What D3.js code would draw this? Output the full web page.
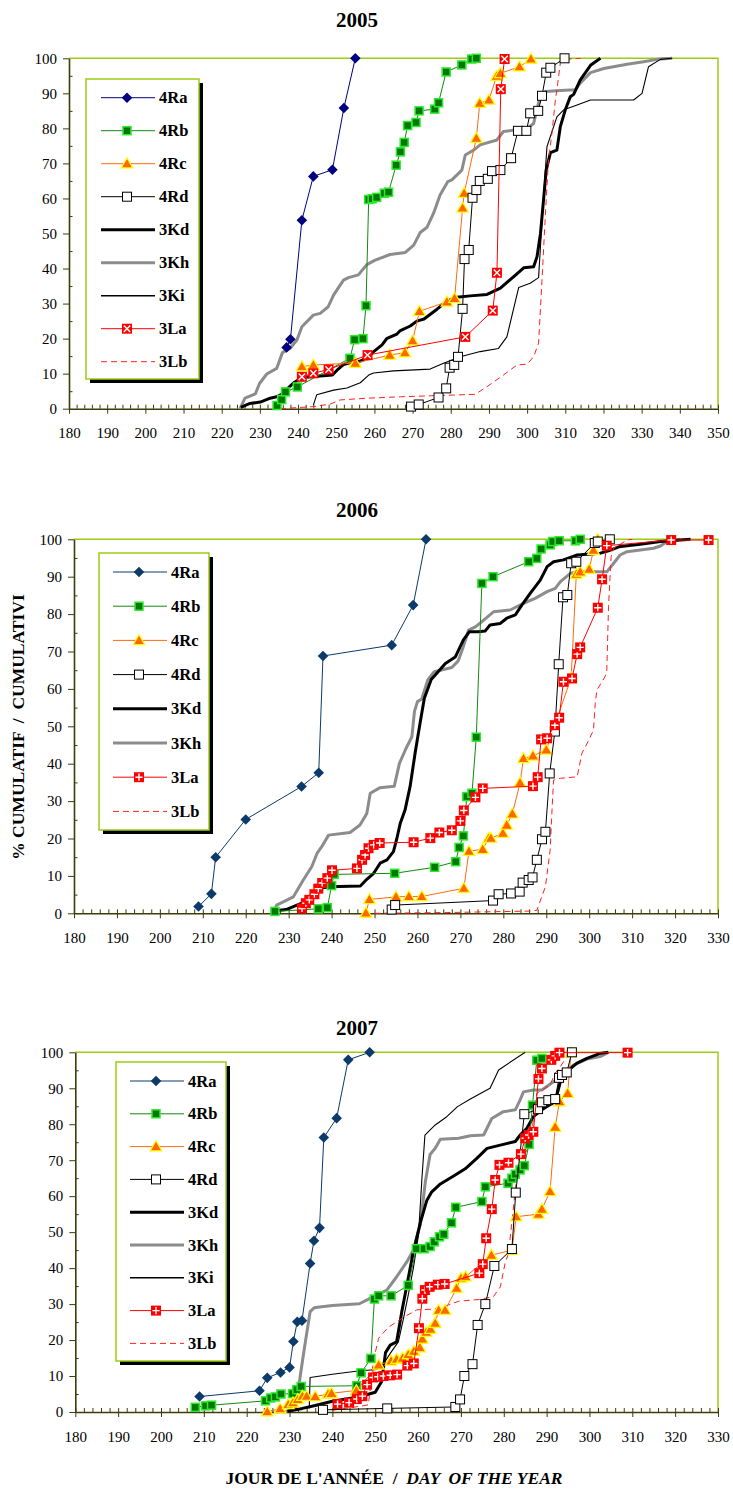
<!DOCTYPE html>
<html lang="fr">
<head>
<meta charset="utf-8">
<title>Cumulatif</title>
<script src="https://d3js.org/d3.v7.min.js"></script>
<style>
  body { margin: 0; background: #ffffff; }
  text { font-family: "Liberation Serif", "Times New Roman", Times, "DejaVu Serif", serif; fill: #000000; }
  .tick text { font-size: 15px; }
  .tick line, .domain { stroke: #3d3d0a; }
</style>
</head>
<body>
<div id="chart"></div>
<script>
// ---- data: [day of year, cumulative %] ----
// 2005
var ra05 = [[237,17.5],[238,19.8],[241,53.8],[244,66.3],[249,68.2],[252,85.8],[255,100]];
var rb05 = [[234.5,0.9],[235.7,2.6],[236.7,4.8],[239.8,6.2],[253.6,14.4],[254.8,19.7],[257,20],[257.8,29.4],[258.5,59.7],[259.4,59.9],[260.6,60.3],[262.6,61.5],[263.7,61.8],[265.7,69.5],[266.8,73.3],[267.8,76],[268.7,80.8],[270.9,81.7],[271.7,85],[275.8,85.5],[276.8,87.3],[278.8,96.1],[282.9,98.1],[285.5,99.8],[286.7,100]];
var rc05 = [[241,12],[244,12.5],[255,13],[264,15.3],[268,16],[270,19.4],[271.8,27.8],[279,30.5],[281,31.5],[283.1,57.3],[283.5,61.5],[286.7,77.2],[287.6,87.2],[290,88.1],[292,94.9],[293,95.7],[298,97.6],[301,99.8]];
var rd05 = [[269.6,0.6],[271.6,1.2],[276.8,3.2],[278.8,5.8],[279.7,11.7],[280.9,12.5],[281.9,14.8],[283.1,28.5],[283.6,42.7],[284.7,45.3],[285.7,60.2],[286.7,62.4],[287.6,65],[289.7,65.6],[290.8,67.8],[293,68.1],[295.8,71.5],[297.6,79.3],[299.8,79.3],[300.8,84.3],[302.9,85],[303.9,89.3],[305,95.9],[306.1,97.3],[309.8,100]];
var kd05 = [[225,0.4],[227.4,1.5],[230.1,1.9],[232.7,3],[234.4,3.4],[236.2,4.4],[237.5,6],[239,7.5],[241,8.9],[249,9.6],[250.2,11],[251.9,12.6],[254.5,13.4],[256.3,13.6],[258.5,14.8],[259.8,16.3],[262,18.2],[263.3,20.1],[265.9,21.3],[266.8,22.3],[269.4,23.6],[271.1,25],[273,25.6],[276.4,28.4],[279,30.7],[281.6,31.8],[285.1,32.2],[289.5,32.6],[293,34.4],[296.5,37.7],[299.1,40.2],[301.7,40.5],[302.6,43.4],[303.5,50],[304.3,59.6],[305,68.1],[306.1,73.1],[307.8,73.8],[308.7,80.5],[310,85.3],[311.3,89],[312.2,89.7],[313.9,93.8],[316.6,98],[319.2,100]];
var kh05 = [[224.8,0],[226.1,3],[228.8,4.2],[229.9,7.2],[231.8,9.9],[234.4,11.5],[235.9,16],[237.9,17.2],[239.7,19.6],[241,23.4],[244,26.7],[245.8,27.2],[247.9,29.1],[249.3,32.4],[250.2,33.9],[251.9,36.7],[253.2,37.4],[255.8,38.2],[258,41.1],[260.2,42.4],[264.1,44],[268.1,44.6],[270.3,46.7],[272,50.3],[273.8,51.8],[275.5,55.8],[277.2,61],[279.2,64.8],[280.3,65.3],[282.9,68.1],[283.8,72.4],[286,73.8],[287.7,75.3],[292.1,76.7],[293.8,79.1],[296.5,79.5],[300,80],[301.7,81.4],[303.5,89.5],[304.8,90.5],[308.7,90.8],[312.6,91],[313.9,92.9],[316.6,95.9],[320.1,97.1],[326.2,98.3],[330.5,99],[334,99.7],[338,100]];
var ki05 = [[244,1],[244.9,4],[249.3,5.3],[252.8,5.9],[256.3,7.4],[258.5,9.6],[259.8,10.2],[265,10.8],[274.6,11.3],[278.1,13],[282.5,14.8],[287.7,16.3],[292.5,17.2],[294.7,20.5],[297.8,34.6],[300.8,35.8],[303,37.4],[304.3,60.5],[305.2,74.8],[307.8,83.3],[309.6,85.3],[313.1,86.7],[316.6,88.1],[327.9,88.1],[330.1,90],[331.8,97.6],[334.9,99.7],[338,100]];
var la05 = [[241,9.1],[244,10.1],[248,11.2],[258.2,15.3],[283.8,20.5],[291,28],[292.1,38.8],[293.1,91.2],[294.1,99.8]];
var lb05 = [[235.3,0],[244,0.6],[248.4,1.3],[251,2.5],[258,3],[266.8,3.4],[280.7,3.9],[286.4,4.1],[289.5,6.3],[293.8,9.6],[297.4,12.5],[300,12.7],[301.7,14.8],[303,18.7],[303.9,36.7],[304.8,55.8],[305.6,71],[306.5,78.6],[307.4,88.1],[307.8,91],[308.7,98.6],[309.6,99.7],[314,100]];

// 2006
var ra06 = [[209,1.8],[212,5.2],[213,15],[220,25.1],[233,33.9],[237,37.6],[238,68.8],[254,71.7],[259,82.4],[262,100]];
var rb06 = [[226.8,0.5],[236.9,1.2],[239,1.5],[240,7.4],[240.6,10.4],[254.7,10.7],[264,12.3],[268.9,13.8],[269.7,17.6],[270.7,20.7],[271.5,31.2],[272.7,32.1],[273.7,47.1],[275,88.2],[277.6,90],[285.9,94],[287.8,94.9],[288.8,97.4],[290.9,98.5],[291.5,99.4],[293,99.6],[296.8,99.6],[297.9,100]];
var rc06 = [[248,0.1],[248.8,3.7],[255,4.4],[258,4.5],[261,4.5],[270.8,6.7],[272,16.6],[275.2,17.1],[276.6,20.1],[277.1,20.1],[279.9,21.4],[280.8,23.6],[282.1,26.6],[283.9,34.9],[284.7,41.4],[286.9,42.1],[290,43.7],[295.8,63],[297,90.7],[297.9,91.3],[300,92],[301,97.1],[302,100]];
var rd06 = [[254,1],[254.8,2.2],[277.6,3.4],[278.9,5.1],[281.8,5.3],[283.8,5.8],[284.5,8.2],[285.9,8.9],[286.8,9.6],[287.8,14.3],[289,19.8],[289.8,21.8],[290.8,37.4],[292,48.6],[292.9,66.6],[293.9,84.5],[294.9,85.1],[295.8,93.6],[297,94],[301.3,99],[302,99.4],[304.8,100]];
var kd06 = [[226.8,0.7],[229.4,1],[231.5,2],[233.1,2.7],[237.3,6.7],[239.3,7.1],[246.7,7.3],[248.2,9.1],[249.8,10.7],[251.3,13.4],[252.9,14.3],[254.4,16.5],[255.2,20],[256,24.1],[257.1,27.6],[258.3,34],[259.5,43.2],[260.6,50.8],[261.6,57.5],[263.2,62.5],[264.5,64.2],[266.5,66.8],[268.8,68.5],[270.7,73.1],[272.1,75.3],[274.2,75.3],[275.8,75.5],[276.9,77.1],[279.3,77.5],[280.8,78.9],[282.8,79.8],[284.3,82.4],[286.3,85.6],[288.6,89.1],[290.2,92.7],[291.7,94],[294,94.5],[297.2,95.8],[302.6,96.3],[304.5,96.9],[306.9,98],[311.9,98.7],[316.6,99.4],[323.6,100]];
var kh06 = [[226.5,0.5],[227.2,2.2],[231.1,4.4],[233.4,8.9],[235.4,12.5],[236.6,16],[237.7,17.8],[239.3,20.9],[244.3,21.6],[246.6,23.6],[248.2,26.7],[249,32.1],[251.3,33.6],[254.6,34],[255.8,40.1],[257.3,44],[258.7,47.2],[259.3,54],[260,56.6],[261,57.3],[262.4,62.4],[263.9,64.6],[268,65.7],[269.5,67.5],[270.6,71],[271.9,75.7],[273.5,76.6],[275,78],[277.7,80.6],[281.6,81.1],[284.7,82.9],[287.4,84.2],[290.2,86],[292.1,86.9],[293.3,88.7],[295.6,90.9],[297.9,91.3],[304.1,91.3],[305.7,93.6],[307.2,95.8],[308.8,96.7],[315,97.6],[316.6,98.2],[318.1,99.4],[321.2,100]];
var la06 = [[233.1,1.3],[234,2.7],[234.8,3.6],[236,5.1],[236.9,6.6],[237.8,8.1],[239,9.4],[240.1,11.5],[245.9,12],[247.1,14.3],[247.8,15.6],[248.6,17.4],[249.8,18.3],[251.2,18.8],[259.1,19],[263,20.1],[265.1,21.6],[268,22.2],[270,24.7],[270.8,27.5],[273.5,31],[275.2,33.4],[286.9,34],[288,36.4],[288.8,46.5],[290.2,46.8],[292,50.3],[293,52.3],[294,61.9],[296,62.8],[297.2,69.3],[297.9,71.1],[302,81.7],[303,89.3],[304.1,98.3],[319.1,99.8],[327.8,99.8]];
var lb06 = [[250,0],[266.9,0.2],[286.3,0.6],[287.8,0.8],[289.8,7.1],[290.9,16.9],[291.3,26.7],[291.7,35.6],[293.3,36.1],[297.2,36.5],[298.3,42.8],[299.9,46.3],[301,49],[301.4,56.1],[301.8,59.7],[303.7,63.3],[304.1,65],[304.5,82],[305.1,95.3],[305.7,97.6],[308.8,99.8],[310,100]];

// 2007
var ra07 = [[209,4.3],[223,5.9],[224.8,9.5],[227.9,11],[230,12.4],[230.9,19.6],[231.8,25.1],[232.9,25.4],[234.8,41.3],[235.7,47.6],[237,51.2],[238,76.3],[241,81.7],[243.7,97.9],[248.7,100]];
var rb07 = [[208,1.3],[210.4,1.7],[211.8,1.9],[224.4,3.1],[225.6,3.9],[226.7,4.2],[228,5],[230.7,5.1],[231.7,6.2],[232.7,7.1],[245.7,7.3],[246.7,10.9],[249,14.9],[249.8,31.4],[250.8,32.3],[253.7,32.3],[257.7,35.2],[259.6,45.4],[261.4,45.4],[262.8,46],[263.8,47.3],[265,48.7],[266,49.4],[267.8,52.6],[268.8,56.9],[274.9,58.5],[275.7,62.6],[281,63.6],[281.9,65],[282.7,66.1],[283.8,67.3],[284.8,68.5],[285.9,74.4],[286.7,85.3],[287.7,97.8],[288.9,98.3]];
var rc07 = [[224.8,0.1],[227.8,0.9],[229.7,2.1],[230.8,2.6],[231.9,3.5],[233,4.4],[234,4.4],[236,4.3],[239,5],[239.8,5.2],[245.6,6],[250.8,13.1],[253.7,14.2],[255,14.7],[256.4,15],[257.7,16],[259,16.9],[260.4,17.9],[261,20.3],[261.9,22.2],[262.9,23],[264,24.7],[264.8,28.3],[266.3,28.3],[269,34.4],[270,37.2],[271.1,37.6],[277.1,43.6],[281.9,45],[282.9,54.3],[288.1,55],[288.9,56.4],[290.8,61.3],[292,79.2],[293,86.3],[294.9,88.6],[295.7,99.9]];
var rd07 = [[237.8,0.6],[252.8,1],[268.7,1.4],[269.8,3.5],[270.8,10],[272.7,13.3],[273.9,24.2],[275.7,30],[277.8,40.6],[281.9,45.3],[282.8,61],[284.8,82.8],[288,84.2],[288.9,86.1],[290.4,86.7],[292,87],[292.9,92.9],[293.6,93.7],[294.7,94.4],[295.9,100]];
var kd07 = [[229.5,0.2],[233,1],[236,1.8],[240,3],[245,4],[248,4.8],[250,5.5],[251.5,8.5],[252.4,16.5],[253.5,18.6],[255,19.5],[256.2,27.9],[257.4,35.3],[258.9,44.6],[260.5,52.5],[262,58.7],[263.2,61.2],[265.2,63.4],[268.3,65.6],[271,67.6],[273.7,70.5],[276.1,73.3],[279.2,74.2],[282.7,75.2],[283.8,77],[285.4,78.9],[286.9,82.1],[288.9,84],[291.2,85.8],[292.4,88.1],[293.2,91.8],[294.7,94.6],[297.1,97],[299.4,98.3],[302.5,99.7],[304.4,100]];
var kh07 = [[229,0],[231.5,1.5],[232.5,10],[233.5,18],[234.8,27.9],[235.8,29],[237,29.2],[240,29.6],[246.3,30.1],[248.8,31.6],[252.7,33.9],[255,37.6],[257.4,41.8],[258.9,45],[260.5,52],[261.7,64],[262.8,71.6],[264,73.3],[265.2,75.8],[269.5,76.1],[272.2,76.8],[275.3,77],[277.2,81.6],[279.9,83.5],[282.7,84],[283.8,86.7],[284.6,89],[286.9,89.5],[288.9,89.5],[291.6,91.8],[293.9,94.2],[296.3,96.5],[299.4,98.1],[302.5,98.8],[304.4,100]];
var ki07 = [[234.6,1],[234.8,9.6],[240,10.5],[246,11.4],[250.4,11.8],[252,13.5],[253.5,16.3],[255.4,19.5],[256.6,26],[257.7,32.5],[258.9,40],[260.1,49.2],[260.9,65],[261.6,77],[264,79.8],[266.7,82.1],[269.2,84.9],[272.2,87],[276.8,90],[278.8,95.1],[285,100]];
var la07 = [[241.2,2.2],[243.9,2.6],[245.7,3.6],[247,4.4],[248.1,7.6],[249.5,9.6],[250.6,9.8],[251.9,10],[253.5,10.2],[255.1,10.4],[257.5,12.9],[259,13.5],[260.2,23.3],[261,31.5],[261.6,33.9],[262.7,34.8],[264.6,35.4],[266.2,35.6],[274.3,38.6],[275.1,41.1],[275.9,48.3],[277.2,56.4],[278,64.5],[279,68.7],[281.1,69.3],[284,71.7],[285,76.1],[285.8,77],[286.9,77.9],[288.1,92.6],[288.9,95.5],[291.1,97.9],[292,99],[293,99.9],[308.9,99.9]];
var lb07 = [[240,0.5],[246,1.5],[248.4,2],[249.6,14.5],[250.8,20.5],[253,23.5],[256.6,26.3],[259.7,28.4],[263.6,28.6],[266,29.3],[269.5,30.8],[274.5,31.3],[277.6,32.1],[279.2,34.8],[280.3,41.3],[281.1,44.1],[282.7,61.7],[283.5,71],[285,71.9],[286.2,74.7],[286.9,81.2],[287.7,88.6],[288.9,89.5],[290.8,90.9],[292,94.2],[293.2,96],[294.7,98.8],[295.5,100]];

var years = ["2005", "2006", "2007"];
var yTicks = [0, 10, 20, 30, 40, 50, 60, 70, 80, 90, 100];

// ---- layout ----
var W = 733, H = 1490;

var panels = [
  {year: years[0], xMax: 350, left: 69, right: 718, top: 58.3, bottom: 408.7, titleY: 26.7,
   lg: {x: 86, y: 79, w: 113, h: 300, first: 97.7, step: 33, lx: 101, mx: 127, tx: 159},
   raColor: "#000080", laMark: "x",
   data: {"4Ra": ra05, "4Rb": rb05, "4Rc": rc05, "4Rd": rd05, "3Kd": kd05, "3Kh": kh05, "3Ki": ki05, "3La": la05, "3Lb": lb05}},
  {year: years[1], xMax: 330, left: 74, right: 718, top: 539.3, bottom: 913.3, titleY: 516.7,
   lg: {x: 99, y: 553, w: 110, h: 277, first: 572, step: 34.2, lx: 113, mx: 139, tx: 171},
   raColor: "#0b3a6b", laMark: "+",
   data: {"4Ra": ra06, "4Rb": rb06, "4Rc": rc06, "4Rd": rd06, "3Kd": kd06, "3Kh": kh06, "3La": la06, "3Lb": lb06}},
  {year: years[2], xMax: 330, left: 75.3, right: 718, top: 1052.3, bottom: 1412, titleY: 1035,
   lg: {x: 116, y: 1062, w: 110, h: 299, first: 1081, step: 32.8, lx: 130, mx: 156, tx: 188},
   raColor: "#0b3a6b", laMark: "+",
   data: {"4Ra": ra07, "4Rb": rb07, "4Rc": rc07, "4Rd": rd07, "3Kd": kd07, "3Kh": kh07, "3Ki": ki07, "3La": la07, "3Lb": lb07}}
];

var legendOrder = ["4Ra", "4Rb", "4Rc", "4Rd", "3Kd", "3Kh", "3Ki", "3La", "3Lb"];
var drawOrder = ["3Kh", "3Kd", "3Ki", "3Lb", "4Ra", "4Rb", "4Rc", "4Rd", "3La"];

var lineStyle = {
  "4Ra": {stroke: null, w: 1},
  "4Rb": {stroke: "#108a10", w: 1},
  "4Rc": {stroke: "#ff6a10", w: 1},
  "4Rd": {stroke: "#000000", w: 1},
  "3Kd": {stroke: "#000000", w: 3},
  "3Kh": {stroke: "#8c8c8c", w: 3},
  "3Ki": {stroke: "#000000", w: 1.1},
  "3La": {stroke: "#ff0000", w: 1},
  "3Lb": {stroke: "#ff2020", w: 1, dash: "6,4"}
};

var svg = d3.select("#chart").append("svg")
  .attr("width", W).attr("height", H)
  .style("background", "#ffffff");

function marker(g, key, p) {
  if (key === "4Ra") {
    g.append("path").attr("d", "M0,-5.3L5.3,0L0,5.3L-5.3,0Z").attr("fill", p.raColor);
  } else if (key === "4Rb") {
    g.append("rect").attr("x", -4).attr("y", -4).attr("width", 8).attr("height", 8)
      .attr("fill", "#007800").attr("stroke", "#2ee82e").attr("stroke-width", 1.5);
  } else if (key === "4Rc") {
    g.append("path").attr("d", "M0,-5.8L5.8,4.2L-5.8,4.2Z")
      .attr("fill", "#ff6600").attr("stroke", "#ffff00").attr("stroke-width", 1.2);
  } else if (key === "4Rd") {
    g.append("rect").attr("x", -4.5).attr("y", -4.5).attr("width", 9).attr("height", 9)
      .attr("fill", "#ffffff").attr("stroke", "#000000").attr("stroke-width", 1);
  } else if (key === "3La") {
    g.append("rect").attr("x", -5).attr("y", -5).attr("width", 10).attr("height", 10)
      .attr("fill", "#ff0000");
    var cross = p.laMark === "x" ? "M-3.2,-3.2L3.2,3.2M3.2,-3.2L-3.2,3.2" : "M-3.6,0H3.6M0,-3.6V3.6";
    g.append("path").attr("d", cross).attr("stroke", "#ffffff").attr("stroke-width", 1.4).attr("fill", "none");
  }
}

var hasMarker = {"4Ra": 1, "4Rb": 1, "4Rc": 1, "4Rd": 1, "3La": 1};

// d3 axes put a sans-serif font on their group; drop it so the serif rule applies
function plainFont(a) { a.attr("font-family", null).attr("font-size", null); }

panels.forEach(function(p) {
  var x = d3.scaleLinear().domain([180, p.xMax]).range([p.left, p.right]);
  var y = d3.scaleLinear().domain([0, 100]).range([p.bottom, p.top]);
  var g = svg.append("g");

  // title
  g.append("text").attr("x", 357).attr("y", p.titleY)
    .attr("text-anchor", "middle").style("font-size", "21px").style("font-weight", "bold")
    .text(p.year);

  // plot frame (top and right)
  g.append("path")
    .attr("d", "M" + p.left + "," + p.top + "H" + p.right + "V" + p.bottom)
    .attr("fill", "none").attr("stroke", "#9ccc14").attr("stroke-width", 1.5);

  // x axis: minor ticks every 2 days pointing up, major every 10 pointing down
  var xMinor = d3.range(180, p.xMax + 1, 2);
  var xMajor = d3.range(180, p.xMax + 1, 10);
  g.append("g").attr("transform", "translate(0," + p.bottom + ")")
    .call(d3.axisBottom(x).tickValues(xMinor).tickSize(-4).tickSizeOuter(0).tickFormat(""))
    .call(function(a) { a.select(".domain").remove(); });
  g.append("g").attr("transform", "translate(0," + p.bottom + ")")
    .call(d3.axisBottom(x).tickValues(xMajor).tickSize(5).tickSizeOuter(0).tickPadding(14))
    .call(plainFont)
    .call(function(a) { a.select(".domain").attr("stroke-width", 1.6); });

  // y axis: major every 10 outside, minor at 5s inside
  g.append("g").attr("transform", "translate(" + p.left + ",0)")
    .call(d3.axisLeft(y).tickValues(d3.range(5, 100, 10)).tickSize(-3.5).tickSizeOuter(0).tickFormat(""))
    .call(function(a) { a.select(".domain").remove(); });
  g.append("g").attr("transform", "translate(" + p.left + ",0)")
    .call(d3.axisLeft(y).tickValues(yTicks).tickSize(6).tickSizeOuter(0).tickPadding(6))
    .call(plainFont)
    .call(function(a) { a.select(".domain").attr("stroke-width", 1.6); });

  var line = d3.line().x(function(d) { return x(d[0]); }).y(function(d) { return y(d[1]); });

  drawOrder.forEach(function(key) {
    var vals = p.data[key];
    if (!vals) return;
    var st = lineStyle[key];
    g.append("path").datum(vals)
      .attr("d", line)
      .attr("fill", "none")
      .attr("stroke", st.stroke || p.raColor)
      .attr("stroke-width", st.w)
      .attr("stroke-linejoin", "round")
      .attr("stroke-dasharray", st.dash || null);
    if (hasMarker[key]) {
      vals.forEach(function(d) {
        var m = g.append("g").attr("transform", "translate(" + x(d[0]) + "," + y(d[1]) + ")");
        marker(m, key, p);
      });
    }
  });

  // legend
  var lg = p.lg;
  g.append("rect").attr("x", lg.x + 4).attr("y", lg.y + 4).attr("width", lg.w).attr("height", lg.h)
    .attr("fill", "#000000");
  g.append("rect").attr("x", lg.x).attr("y", lg.y).attr("width", lg.w).attr("height", lg.h)
    .attr("fill", "#ffffff").attr("stroke", "#9ccc14").attr("stroke-width", 1.5);

  var keys = legendOrder.filter(function(k) { return p.data[k]; });
  keys.forEach(function(k, i) {
    var cy = lg.first + i * lg.step;
    var st = lineStyle[k];
    g.append("line").attr("x1", lg.lx).attr("x2", lg.lx + 54).attr("y1", cy).attr("y2", cy)
      .attr("stroke", st.stroke || p.raColor)
      .attr("stroke-width", k === "3Ki" ? 1.6 : st.w)
      .attr("stroke-dasharray", st.dash || null);
    if (hasMarker[k]) {
      marker(g.append("g").attr("transform", "translate(" + lg.mx + "," + cy + ")"), k, p);
    }
    g.append("text").attr("x", lg.tx).attr("y", cy + 5.5)
      .style("font-size", "16.5px").style("font-weight", "bold").text(k);
  });
});

// y axis title
svg.append("text")
  .attr("transform", "translate(24,727) rotate(-90)")
  .attr("text-anchor", "middle")
  .style("font-size", "17.5px").style("font-weight", "bold").style("white-space", "pre")
  .text("% CUMULATIF  /  CUMULATIVI");

// x axis title
var xt = svg.append("text")
  .attr("x", 394).attr("y", 1484)
  .attr("text-anchor", "middle")
  .style("font-size", "17.5px").style("font-weight", "bold").style("white-space", "pre");
xt.append("tspan").text("JOUR DE L'ANNÉE  /  ");
xt.append("tspan").style("font-style", "italic").text("DAY  OF THE YEAR");
</script>
</body>
</html>
